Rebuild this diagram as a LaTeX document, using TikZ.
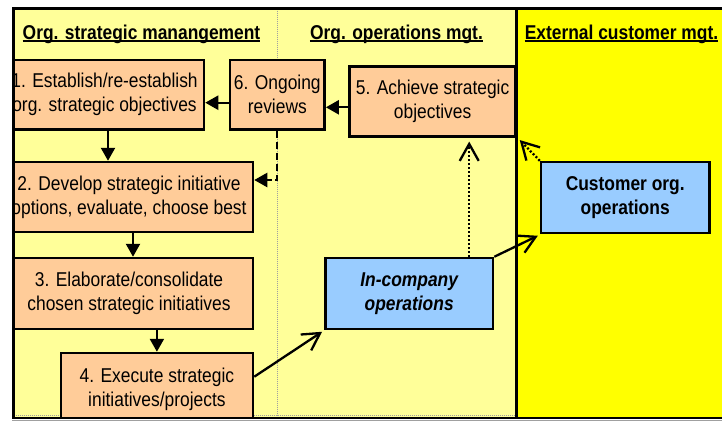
\documentclass[tikz,border=0pt]{standalone}
\usepackage{fontspec}
\setmainfont{Liberation Sans}[FakeStretch=0.87]
\usetikzlibrary{arrows.meta}

\definecolor{laneyellow}{HTML}{FFFF99}
\definecolor{extyellow}{HTML}{FFFF00}
\definecolor{stepfill}{HTML}{FFCC99}
\definecolor{opsfill}{HTML}{99CCFF}
\definecolor{divgrey}{HTML}{A0A0A0}

\begin{document}
\begin{tikzpicture}[x=1pt,y=-1pt,
  txt/.style={font=\fontsize{20}{23.8}\selectfont},
  stepbox/.style={txt, draw, line width=2.5pt, fill=stepfill, align=center, inner sep=0pt},
  opsbox/.style={stepbox, fill=opsfill, font=\fontsize{20}{23.8}\selectfont\bfseries},
  lanehead/.style={font=\fontsize{20}{23.8}\selectfont\bfseries, inner sep=0pt, anchor=base},
  headrule/.style={line width=2pt},
  flow/.style={line width=2.3pt, -{Triangle[length=13pt,width=14pt]}},
  link/.style={line width=2.3pt, -{Straight Barb[length=17pt,width=19pt]}},
  feedback/.style={flow, dash pattern=on 7.5pt off 3.5pt},
  outcome/.style={link, dash pattern=on 2pt off 2pt},
  laneline/.style={divgrey, line width=0.8pt, dash pattern=on 1pt off 1pt},
  frame/.style={line width=3pt, line join=miter}
]
% canvas
\fill[white] (0,0) rectangle (722,421);
\useasboundingbox (0,0) rectangle (722,421);

% swim lanes
\fill[laneyellow] (13.5,8.7) rectangle (516.7,417);
\fill[extyellow] (516.7,8.7) rectangle (722,417);
\draw[laneline] (277,8.7) -- (277,415.5);
\draw[laneline] (13.5,415.5) -- (516.7,415.5);
\draw[line width=2.5pt] (516.7,8.7) -- (516.7,417.5);

% lane headings
\node[lanehead] (h1) at (141.5,39.3) {Org. strategic manangement};
\node[lanehead] (h2) at (396.5,39.3) {Org. operations mgt.};
\node[lanehead] (h3) at (621.5,39.3) {External customer mgt.};
\foreach \h in {h1,h2,h3}
  \draw[headrule] ([yshift=-2pt]\h.base west) -- ([yshift=-2pt]\h.base east);

% process steps
\begin{scope}
  \clip (13.5,8.7) rectangle (722,418);
  \node[stepbox, minimum width=199pt, minimum height=69.3pt] (b1) at (104.5,94.7)
    {1. Establish/re-establish\\org. strategic objectives};
  \node[stepbox, minimum width=94.7pt, minimum height=69.3pt] (b6) at (277.3,94.7)
    {6. Ongoing\\reviews};
  \node[stepbox, minimum width=165.8pt, minimum height=70pt] (b5) at (432.6,101.3)
    {5. Achieve strategic\\objectives};
  \node[stepbox, minimum width=248pt, minimum height=70pt] (b2) at (129,197)
    {2. Develop strategic initiative\\options, evaluate, choose best};
  \node[stepbox, minimum width=248pt, minimum height=71pt] (b3) at (129,293.5)
    {3. Elaborate/consolidate\\chosen strategic initiatives};
  \node[stepbox, minimum width=192.3pt, minimum height=72pt] (b4) at (156.9,389)
    {4. Execute strategic\\initiatives/projects};
  \node[opsbox, font=\fontsize{20}{23.8}\selectfont\bfseries\itshape,
        minimum width=167.7pt, minimum height=71pt] (inc) at (409.2,293.5)
    {In-company\\operations};
  \node[opsbox, minimum width=168.3pt, minimum height=71pt] (cust) at (625.2,197.5)
    {Customer org.\\operations};
\end{scope}

% step sequence
\coordinate (p56) at ([yshift=-6pt]b5.west);
\draw[flow] (p56) -- (p56 -| b6.east);
\coordinate (p61) at ([yshift=-8pt]b6.west);
\draw[flow] (p61) -- (p61 -| b1.east);
\coordinate (p12) at ([xshift=3.5pt]b1.south);
\draw[flow] (p12) -- (p12 |- b2.north);
\coordinate (p23) at ([xshift=4pt]b2.south);
\draw[flow] (p23) -- (p23 |- b3.north);
\draw[flow] (b4.north |- b3.south) -- (b4.north);
\draw[feedback] (b6.south) |- ([yshift=17pt]b2.east);

% operations links
\draw[link] ([yshift=12.3pt]b4.east) -- ([xshift=-2pt,yshift=-1.5pt]inc.south west);
\draw[link] (inc.north east) -- ([xshift=-2pt,yshift=-1.5pt]cust.south west);
\coordinate (q0) at ([xshift=60pt]inc.north);
\coordinate (q1) at (q0 |- b5.south);
\draw[outcome] (q0) -- ([yshift=-4pt]q1);
\draw[outcome] (cust.north west) -- ([xshift=3pt,yshift=-2.5pt]b5.south east);

% outer frame
\draw[frame] (13.5,417) -- (13.5,8.7) -- (722,8.7);
\draw[line width=2.5pt] (12,418) -- (722,418);
\draw[divgrey, line width=1.5pt] (12,420.3) -- (722,420.3);
\end{tikzpicture}
\end{document}
